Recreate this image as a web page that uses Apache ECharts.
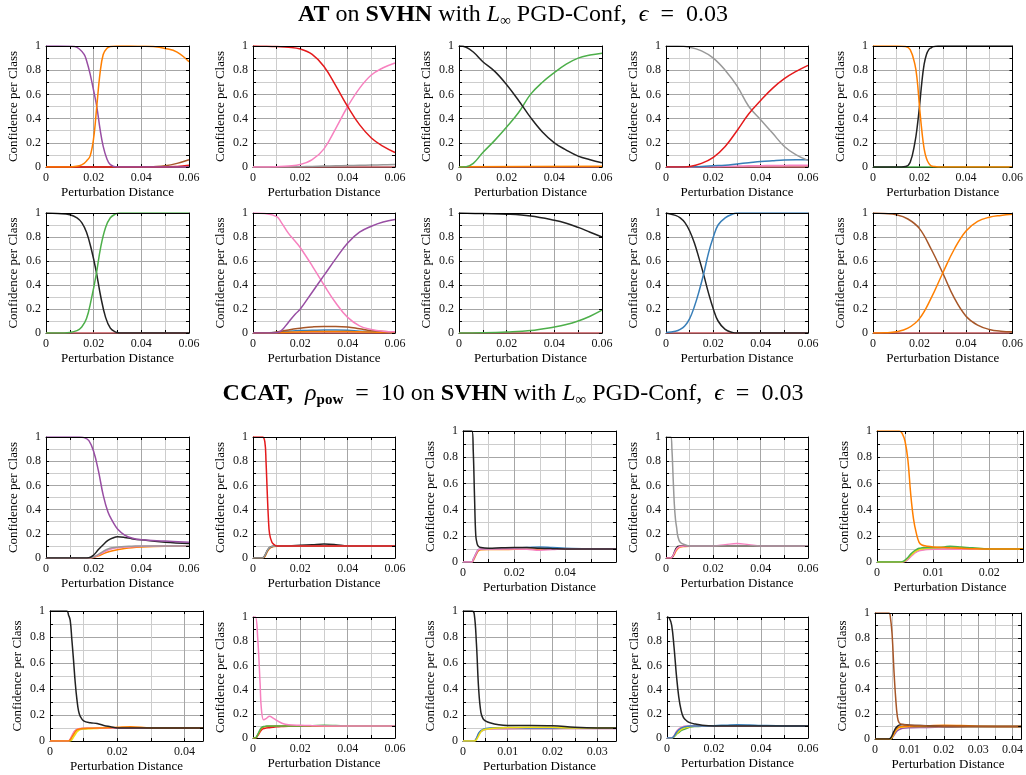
<!DOCTYPE html>
<html><head><meta charset="utf-8">
<script src="https://cdn.jsdelivr.net/npm/echarts@6/dist/echarts.min.js"></script>
<style>html,body{margin:0;padding:0;background:#fff}#c{width:1026px;height:775px}</style>
</head><body><div id="c"></div>
<script>
// ---------- data ----------
const atZeroX = [0, 0.06];
const atZeroY = [0, 0];

// Row 1 (AT)
const r1c1_x = [0,0.005,0.01,0.012,0.014,0.016,0.017,0.0185,0.02,0.0213,0.0227,0.024,0.0255,0.027,0.03,0.035,0.04,0.045,0.05,0.055,0.06];
const r1c1_purple = [1,1,0.998,0.995,0.975,0.93,0.88,0.77,0.63,0.5,0.31,0.17,0.07,0.02,0,0,0,0,0,0,0];
const r1c1_orange = [0,0,0,0.005,0.01,0.03,0.05,0.09,0.24,0.5,0.78,0.93,0.98,0.995,1,1,0.998,0.995,0.98,0.95,0.87];
const r1c1_bx = [0,0.04,0.045,0.05,0.055,0.06];
const r1c1_brown = [0,0,0.003,0.01,0.03,0.06];
const r1c1_rx = [0,0.05,0.055,0.06];
const r1c1_red = [0,0,0.005,0.015];

const x13 = [0,0.005,0.01,0.015,0.02,0.025,0.03,0.035,0.04,0.045,0.05,0.055,0.06];
const r1c2_red = [1,0.998,0.995,0.99,0.975,0.93,0.83,0.67,0.5,0.35,0.24,0.17,0.12];
const r1c2_pink = [0,0,0.003,0.008,0.02,0.06,0.15,0.32,0.5,0.65,0.76,0.82,0.86];
const r1c2_gray = [0,0,0,0,0.002,0.005,0.008,0.01,0.012,0.014,0.016,0.018,0.02];

const r1c3_x = [0,0.003,0.006,0.01,0.015,0.02,0.025,0.03,0.035,0.04,0.045,0.05,0.055,0.06];
const r1c3_black = [1,0.99,0.95,0.87,0.79,0.68,0.55,0.41,0.29,0.2,0.14,0.09,0.06,0.035];
const r1c3_green = [0,0.003,0.03,0.12,0.22,0.33,0.45,0.6,0.7,0.78,0.85,0.9,0.925,0.94];
const r1c3_orange = [0.003,0.006];

const r1c4_gray = [1,1,0.99,0.96,0.9,0.8,0.67,0.5,0.39,0.28,0.17,0.1,0.055];
const r1c4_red = [0,0,0.005,0.03,0.08,0.17,0.3,0.44,0.55,0.65,0.73,0.79,0.84];
const r1c4_blue = [0,0,0.002,0.005,0.01,0.015,0.025,0.035,0.045,0.052,0.058,0.06,0.06];
const r1c4_pink = [0,0,0,0.002,0.004,0.006,0.008,0.01,0.011,0.012,0.013,0.014,0.015];

const r1c5_x = [0,0.005,0.01,0.014,0.016,0.018,0.019,0.02,0.021,0.022,0.023,0.024,0.025,0.026,0.028,0.03,0.04,0.05,0.06];
const r1c5_orange = [1,1,1,0.995,0.97,0.85,0.72,0.5,0.3,0.15,0.07,0.03,0.01,0.005,0,0,0,0,0];
const r1c5_black = [0,0,0,0.005,0.04,0.2,0.33,0.5,0.7,0.85,0.93,0.97,0.985,0.995,1,1,1,1,1];

// Row 2 (AT)
const r2c1_x = [0,0.005,0.01,0.013,0.015,0.017,0.019,0.021,0.023,0.025,0.027,0.029,0.031,0.035,0.04,0.05,0.06];
const r2c1_black = [1,0.995,0.985,0.96,0.92,0.84,0.7,0.52,0.3,0.13,0.04,0.01,0,0,0,0,0];
const r2c1_green = [0,0,0.005,0.02,0.05,0.12,0.28,0.48,0.72,0.88,0.96,0.99,1,1,1,1,1];

const r2c2_x = [0,0.005,0.01,0.012,0.015,0.018,0.02,0.025,0.03,0.035,0.04,0.045,0.05,0.055,0.06];
const r2c2_pink = [1,0.995,0.97,0.92,0.83,0.76,0.71,0.56,0.4,0.25,0.13,0.06,0.03,0.015,0.01];
const r2c2_purple = [0,0,0.003,0.02,0.09,0.16,0.2,0.34,0.48,0.62,0.75,0.84,0.89,0.925,0.945];
const r2c2_brown = [0,0,0.008,0.015,0.025,0.035,0.04,0.05,0.055,0.055,0.05,0.035,0.02,0.012,0.01];
const r2c2_blue = [0,0,0.005,0.01,0.015,0.018,0.02,0.022,0.025,0.025,0.022,0.015,0.01,0.008,0.005];
const r2c2_orange = [0,0,0.003,0.005,0.007,0.008,0.01,0.012,0.012,0.012,0.012,0.01,0.008,0.006,0.005];

const r2c3_x = [0,0.01,0.02,0.03,0.04,0.045,0.05,0.055,0.06];
const r2c3_black = [1,0.995,0.99,0.975,0.94,0.915,0.88,0.84,0.8];
const r2c3_green = [0,0.002,0.008,0.02,0.05,0.07,0.1,0.14,0.19];

const r2c4_x = [0,0.004,0.006,0.008,0.01,0.012,0.014,0.016,0.018,0.02,0.022,0.025,0.028,0.03,0.04,0.05,0.06];
const r2c4_black = [1,0.98,0.96,0.92,0.85,0.75,0.62,0.48,0.33,0.2,0.1,0.03,0.005,0,0,0,0];
const r2c4_blue = [0.005,0.015,0.03,0.06,0.12,0.22,0.35,0.5,0.67,0.8,0.9,0.96,0.99,1,1,1,1];

const r2c5_brown = [1,0.995,0.985,0.95,0.87,0.7,0.5,0.29,0.14,0.065,0.03,0.015,0.01];
const r2c5_orange = [0,0.002,0.01,0.04,0.12,0.29,0.5,0.7,0.85,0.93,0.965,0.98,0.99];

// Row 3 (CCAT)
const r3c1_x = [0,0.014,0.016,0.018,0.02,0.022,0.024,0.026,0.028,0.03,0.033,0.036,0.04,0.05,0.06];
const r3c1_purple = [1,1,0.995,0.97,0.88,0.72,0.52,0.38,0.3,0.24,0.19,0.165,0.15,0.14,0.13];
const r3c1_black = [0,0,0,0.002,0.025,0.07,0.11,0.145,0.165,0.175,0.17,0.16,0.15,0.13,0.12];
const r3c1_gray = [0,0,0,0,0.01,0.03,0.055,0.075,0.085,0.09,0.095,0.097,0.1,0.1,0.1];
const r3c1_pink = [0,0,0,0,0.008,0.025,0.045,0.065,0.078,0.085,0.09,0.094,0.097,0.1,0.1];
const r3c1_orange = [0,0,0,0,0.005,0.018,0.035,0.05,0.06,0.068,0.078,0.085,0.09,0.097,0.1];

const r3c2_x = [0,0.004,0.005,0.0055,0.006,0.0065,0.007,0.008,0.009,0.01,0.015,0.02,0.025,0.03,0.035,0.04,0.05,0.06];
const r3c2_red = [1,1,0.96,0.8,0.55,0.33,0.2,0.13,0.11,0.1,0.1,0.1,0.1,0.1,0.1,0.1,0.1,0.1];
const r3c2_black = [0,0,0.02,0.04,0.06,0.075,0.085,0.095,0.098,0.1,0.1,0.105,0.11,0.115,0.11,0.1,0.1,0.1];
const r3c2_gray = [0,0,0.02,0.04,0.06,0.075,0.085,0.095,0.098,0.1,0.1,0.1,0.1,0.1,0.1,0.1,0.1,0.1];
const r3c2_orange = [0,0,0.01,0.03,0.05,0.065,0.078,0.09,0.095,0.097,0.098,0.098,0.098,0.098,0.098,0.098,0.098,0.098];

const r3c3_x = [0,0.0035,0.004,0.0045,0.005,0.0055,0.006,0.007,0.01,0.015,0.02,0.025,0.03,0.035,0.04,0.05,0.0598];
const r3c3_black = [1,1,0.85,0.5,0.2,0.14,0.12,0.11,0.105,0.108,0.11,0.11,0.105,0.102,0.1,0.1,0.1];
const r3c3_blue = [0,0,0.02,0.04,0.06,0.08,0.095,0.1,0.1,0.102,0.105,0.11,0.115,0.11,0.105,0.1,0.1];
const r3c3_orange = [0,0,0.01,0.03,0.05,0.07,0.085,0.093,0.095,0.095,0.097,0.098,0.098,0.098,0.098,0.098,0.098];
const r3c3_pink = [0,0,0.02,0.04,0.06,0.08,0.095,0.1,0.1,0.1,0.1,0.098,0.09,0.095,0.1,0.1,0.1];

const r3c4_x = [0,0.002,0.0025,0.003,0.0035,0.004,0.0045,0.005,0.006,0.008,0.01,0.02,0.025,0.03,0.035,0.04,0.05,0.06];
const r3c4_gray = [1,1,0.9,0.67,0.45,0.32,0.25,0.18,0.13,0.11,0.1,0.1,0.1,0.1,0.1,0.1,0.1,0.1];
const r3c4_black = [0,0,0.005,0.02,0.045,0.07,0.085,0.095,0.1,0.1,0.1,0.1,0.1,0.1,0.1,0.1,0.1,0.1];
const r3c4_orange = [0,0,0.003,0.015,0.03,0.05,0.065,0.078,0.09,0.095,0.097,0.098,0.098,0.098,0.098,0.098,0.098,0.098];
const r3c4_pink = [0,0,0.005,0.02,0.04,0.06,0.075,0.085,0.095,0.1,0.1,0.1,0.11,0.12,0.11,0.1,0.1,0.1];

const r3c5_x = [0,0.004,0.0045,0.005,0.0055,0.006,0.0065,0.007,0.0075,0.008,0.009,0.01,0.012,0.013,0.015,0.017,0.02,0.026];
const r3c5_orange = [1,1,0.98,0.92,0.78,0.52,0.33,0.22,0.15,0.13,0.12,0.115,0.11,0.108,0.105,0.102,0.1,0.1];
const r3c5_green = [0,0,0.003,0.015,0.035,0.06,0.08,0.095,0.105,0.108,0.11,0.11,0.115,0.12,0.115,0.108,0.1,0.1];
const r3c5_yellow = [0,0,0,0.01,0.03,0.05,0.07,0.085,0.095,0.1,0.105,0.108,0.112,0.115,0.11,0.105,0.1,0.1];
const r3c5_gray = [0,0,0,0.005,0.02,0.045,0.065,0.08,0.09,0.095,0.098,0.1,0.1,0.1,0.1,0.1,0.1,0.1];
const r3c5_pink = [0,0,0,0.005,0.02,0.04,0.06,0.075,0.085,0.09,0.095,0.097,0.098,0.098,0.098,0.098,0.098,0.098];

// Row 4 (CCAT)
const r4c1_x = [0,0.005,0.0055,0.006,0.0065,0.007,0.0075,0.008,0.0085,0.009,0.01,0.012,0.014,0.016,0.018,0.02,0.024,0.03,0.0455];
const r4c1_black = [1,1,0.97,0.93,0.78,0.62,0.45,0.32,0.23,0.19,0.155,0.14,0.135,0.12,0.11,0.1,0.1,0.1,0.1];
const r4c1_gray = [0,0,0,0.01,0.035,0.06,0.078,0.088,0.093,0.095,0.097,0.098,0.098,0.098,0.098,0.098,0.098,0.098,0.098];
const r4c1_pink = [0,0,0,0.015,0.04,0.065,0.08,0.09,0.095,0.097,0.098,0.098,0.098,0.098,0.098,0.098,0.098,0.098,0.098];
const r4c1_yellow = [0,0,0,0,0.01,0.03,0.05,0.07,0.08,0.088,0.092,0.095,0.097,0.1,0.1,0.1,0.1,0.1,0.1];
const r4c1_orange = [0,0,0,0.01,0.03,0.05,0.07,0.085,0.09,0.095,0.097,0.098,0.1,0.1,0.102,0.105,0.11,0.1,0.1];

const r4c2_x = [0,0.001,0.002,0.003,0.0035,0.0045,0.0055,0.007,0.0085,0.01,0.0125,0.015,0.02,0.025,0.03,0.035,0.04,0.05,0.06];
const r4c2_pink = [1,1,0.82,0.45,0.25,0.15,0.16,0.18,0.165,0.145,0.12,0.11,0.105,0.102,0.1,0.1,0.1,0.1,0.1];
const r4c2_green = [0,0,0.03,0.07,0.085,0.095,0.098,0.1,0.1,0.1,0.1,0.1,0.1,0.102,0.105,0.103,0.1,0.1,0.1];
const r4c2_red = [0,0,0.02,0.05,0.065,0.078,0.082,0.085,0.088,0.092,0.095,0.097,0.098,0.098,0.098,0.098,0.098,0.098,0.098];
const r4c2_orange = [0,0,0.025,0.06,0.08,0.09,0.095,0.097,0.098,0.1,0.1,0.1,0.1,0.1,0.1,0.1,0.1,0.1,0.1];

const r4c3_x = [0,0.002,0.0025,0.003,0.0035,0.004,0.0045,0.005,0.006,0.008,0.01,0.015,0.02,0.025,0.03,0.0342];
const r4c3_black = [1,1,0.98,0.75,0.4,0.22,0.17,0.155,0.14,0.125,0.12,0.12,0.118,0.105,0.1,0.1];
const r4c3_yellow = [0,0,0,0.01,0.04,0.07,0.085,0.09,0.095,0.1,0.103,0.106,0.105,0.1,0.1,0.1];
const r4c3_blue = [0,0,0,0.02,0.06,0.08,0.09,0.095,0.1,0.102,0.103,0.1,0.1,0.1,0.1,0.1];
const r4c3_pink = [0,0,0,0.02,0.055,0.075,0.085,0.09,0.093,0.095,0.095,0.097,0.097,0.097,0.097,0.097];
const r4c3_gray = [0,0,0,0.015,0.05,0.072,0.083,0.088,0.092,0.094,0.095,0.095,0.095,0.096,0.097,0.097];

const r4c4_x = [0,0.001,0.002,0.003,0.004,0.005,0.006,0.007,0.0085,0.01,0.012,0.015,0.02,0.025,0.03,0.035,0.04,0.05,0.06];
const r4c4_black = [1,0.99,0.93,0.75,0.52,0.34,0.23,0.17,0.14,0.125,0.115,0.105,0.1,0.1,0.1,0.1,0.1,0.1,0.1];
const r4c4_green = [0,0,0,0.01,0.03,0.045,0.06,0.07,0.08,0.09,0.095,0.098,0.1,0.1,0.1,0.1,0.1,0.1,0.1];
const r4c4_yellow = [0,0,0,0.012,0.035,0.055,0.07,0.08,0.088,0.094,0.097,0.1,0.1,0.1,0.1,0.1,0.1,0.1,0.1];
const r4c4_blue = [0,0,0,0.015,0.045,0.068,0.082,0.09,0.096,0.1,0.1,0.1,0.102,0.106,0.11,0.108,0.104,0.1,0.1];
const r4c4_pink = [0,0,0,0.02,0.055,0.075,0.088,0.095,0.1,0.1,0.1,0.1,0.1,0.1,0.1,0.1,0.1,0.1,0.1];

const r4c5_x = [0,0.004,0.0045,0.005,0.0055,0.006,0.0065,0.007,0.008,0.01,0.015,0.02,0.025,0.03,0.0425];
const r4c5_brown = [1,1,0.96,0.82,0.55,0.33,0.18,0.13,0.115,0.11,0.105,0.102,0.1,0.1,0.1];
const r4c5_purple = [0,0,0,0.01,0.03,0.05,0.065,0.075,0.085,0.09,0.092,0.095,0.097,0.1,0.1];
const r4c5_yellow = [0,0,0,0.015,0.04,0.065,0.08,0.09,0.095,0.1,0.1,0.1,0.1,0.1,0.1];
const r4c5_orange = [0,0,0.003,0.02,0.045,0.07,0.085,0.095,0.1,0.102,0.105,0.11,0.107,0.102,0.1];
const r4c5_black = [0,0,0.005,0.03,0.06,0.085,0.1,0.11,0.115,0.11,0.105,0.1,0.1,0.1,0.1];

// ---------- styles ----------
const F = "'Liberation Serif','DejaVu Serif',serif";
const COL = {red:'#e41a1c', blue:'#377eb8', green:'#4daf4a', purple:'#984ea3', orange:'#ff7f00',
  yellow:'#f0e010', brown:'#a65628', pink:'#f781bf', gray:'#999999', black:'#222222'};
const ZERO = [['brown', atZeroX, atZeroY], ['pink', atZeroX, atZeroY, 0.55]];

const panels = [
  {r:[46,46,143,121], xmax:0.06, step:0.01, lab:0.02, s:[...ZERO,['brown',r1c1_bx,r1c1_brown],['red',r1c1_rx,r1c1_red],['purple',r1c1_x,r1c1_purple],['orange',r1c1_x,r1c1_orange]]},
  {r:[253,46,142,121], xmax:0.06, step:0.01, lab:0.02, s:[...ZERO,['gray',x13,r1c2_gray],['pink',x13,r1c2_pink],['red',x13,r1c2_red]]},
  {r:[459,46,143,121], xmax:0.06, step:0.01, lab:0.02, s:[...ZERO,['orange',atZeroX,r1c3_orange],['green',r1c3_x,r1c3_green],['black',r1c3_x,r1c3_black]]},
  {r:[666,46,142,121], xmax:0.06, step:0.01, lab:0.02, s:[...ZERO,['pink',x13,r1c4_pink],['blue',x13,r1c4_blue],['gray',x13,r1c4_gray],['red',x13,r1c4_red]]},
  {r:[873,46,142,121], xmax:0.06, step:0.01, lab:0.02, s:[['green',atZeroX,atZeroY],['black',r1c5_x,r1c5_black],['orange',r1c5_x,r1c5_orange]]},

  {r:[46,213,143,120], xmax:0.06, step:0.01, lab:0.02, s:[...ZERO,['black',r2c1_x,r2c1_black],['green',r2c1_x,r2c1_green]]},
  {r:[253,213,142,120], xmax:0.06, step:0.01, lab:0.02, s:[...ZERO,['blue',r2c2_x,r2c2_blue],['orange',r2c2_x,r2c2_orange],['brown',r2c2_x,r2c2_brown],['pink',r2c2_x,r2c2_pink],['purple',r2c2_x,r2c2_purple]]},
  {r:[459,213,143,120], xmax:0.06, step:0.01, lab:0.02, s:[...ZERO,['green',r2c3_x,r2c3_green],['black',r2c3_x,r2c3_black]]},
  {r:[666,213,142,120], xmax:0.06, step:0.01, lab:0.02, s:[...ZERO,['black',r2c4_x,r2c4_black],['blue',r2c4_x,r2c4_blue]]},
  {r:[873,213,142,120], xmax:0.06, step:0.01, lab:0.02, s:[...ZERO,['brown',x13,r2c5_brown],['orange',x13,r2c5_orange]]},

  {r:[46,437,143,121], xmax:0.06, step:0.01, lab:0.02, s:[['orange',r3c1_x,r3c1_orange],['pink',r3c1_x,r3c1_pink],['gray',r3c1_x,r3c1_gray],['black',r3c1_x,r3c1_black],['purple',r3c1_x,r3c1_purple]]},
  {r:[253,437,142,121], xmax:0.06, step:0.01, lab:0.02, s:[['orange',r3c2_x,r3c2_orange],['black',r3c2_x,r3c2_black],['gray',r3c2_x,r3c2_gray],['red',r3c2_x,r3c2_red]]},
  {r:[463,431,153,131], xmax:0.0598, step:0.01, lab:0.02, s:[['orange',r3c3_x,r3c3_orange],['blue',r3c3_x,r3c3_blue],['pink',r3c3_x,r3c3_pink],['black',r3c3_x,r3c3_black]]},
  {r:[666,437,142,121], xmax:0.06, step:0.01, lab:0.02, s:[['orange',r3c4_x,r3c4_orange],['black',r3c4_x,r3c4_black],['pink',r3c4_x,r3c4_pink],['gray',r3c4_x,r3c4_gray]]},
  {r:[877,431,152,131], xmax:0.026, step:0.005, lab:0.01, s:[['gray',r3c5_x,r3c5_gray],['pink',r3c5_x,r3c5_pink],['yellow',r3c5_x,r3c5_yellow],['green',r3c5_x,r3c5_green],['orange',r3c5_x,r3c5_orange]]},

  {r:[50,611,153,130], xmax:0.0455, step:0.01, lab:0.02, s:[['yellow',r4c1_x,r4c1_yellow],['gray',r4c1_x,r4c1_gray],['pink',r4c1_x,r4c1_pink],['orange',r4c1_x,r4c1_orange],['black',r4c1_x,r4c1_black]]},
  {r:[253,617,142,121], xmax:0.06, step:0.01, lab:0.02, s:[['red',r4c2_x,r4c2_red],['orange',r4c2_x,r4c2_orange],['green',r4c2_x,r4c2_green],['pink',r4c2_x,r4c2_pink]]},
  {r:[463,611,153,130], xmax:0.0342, step:0.005, lab:0.01, s:[['gray',r4c3_x,r4c3_gray],['pink',r4c3_x,r4c3_pink],['blue',r4c3_x,r4c3_blue],['yellow',r4c3_x,r4c3_yellow],['black',r4c3_x,r4c3_black]]},
  {r:[667,617,141,121], xmax:0.06, step:0.01, lab:0.02, s:[['green',r4c4_x,r4c4_green],['yellow',r4c4_x,r4c4_yellow],['pink',r4c4_x,r4c4_pink],['blue',r4c4_x,r4c4_blue],['black',r4c4_x,r4c4_black]]},
  {r:[875,613,148,126], xmax:0.0425, step:0.005, lab:0.01, s:[['purple',r4c5_x,r4c5_purple],['yellow',r4c5_x,r4c5_yellow],['orange',r4c5_x,r4c5_orange],['black',r4c5_x,r4c5_black],['brown',r4c5_x,r4c5_brown]]}
];

function fmt(lab){
  return function(v){
    const k = v / lab;
    if (Math.abs(k - Math.round(k)) > 1e-6) return '';
    return String(parseFloat(v.toFixed(4)));
  };
}

const nameStyle = {fontFamily:F, fontSize:13, color:'#000'};
const labelStyle = {fontFamily:F, fontSize:12, color:'#111'};
const gridLine = {show:true, lineStyle:{color:['#a6a6a6','#cdcdcd'], width:1}};
const blackLine = {show:true, onZero:false, lineStyle:{color:'#000', width:1}};
const tick = {show:true, inside:true, length:3, lineStyle:{color:'#000', width:1}};

const TS = 24;
const subBase = {fontFamily:F, fontSize:15, lineHeight:14, verticalAlign:'bottom', color:'#000'};
const option = {
  animation:false,
  backgroundColor:'#fff',
  title:[
    {text:'{b|AT} on {b|SVHN} with {i|L}{s|∞} PGD-Conf,  {i|ϵ}  =  0.03', left:'center', top:1},
    {text:'{b|CCAT,}  {i|ρ}{sb|pow}  =  10 on {b|SVHN} with {i|L}{s|∞} PGD-Conf,  {i|ϵ}  =  0.03', left:'center', top:380}
  ].map(t => Object.assign(t, {padding:0, textStyle:{fontFamily:F, fontSize:TS, fontWeight:'normal', color:'#000', lineHeight:28,
      rich:{b:{fontFamily:F, fontSize:TS, fontWeight:'bold', lineHeight:28, color:'#000'},
            i:{fontFamily:F, fontSize:TS, fontStyle:'italic', lineHeight:28, color:'#000'},
            s:Object.assign({}, subBase),
            sb:Object.assign({fontWeight:'bold'}, subBase)}}})),
  grid:[], xAxis:[], yAxis:[], series:[]
};

panels.forEach((p, i) => {
  option.grid.push({left:p.r[0], top:p.r[1], width:p.r[2], height:p.r[3], containLabel:false});
  option.xAxis.push({gridIndex:i, type:'value', position:'bottom', min:0, max:p.xmax, interval:p.step, z:1,
    name:'Perturbation Distance', nameLocation:'middle', nameGap:19, nameTextStyle:nameStyle,
    axisLine:blackLine, axisTick:tick, axisLabel:Object.assign({margin:5, formatter:fmt(p.lab), showMinLabel:true, showMaxLabel:true}, labelStyle),
    splitLine:gridLine});
  option.xAxis.push({gridIndex:i, type:'value', position:'top', min:0, max:p.xmax, interval:p.step, z:3,
    axisLine:blackLine, axisTick:tick, axisLabel:{show:false}, splitLine:{show:false}});
  option.yAxis.push({gridIndex:i, type:'value', position:'left', min:0, max:1, interval:0.1, z:1,
    name:'Confidence per Class', nameLocation:'middle', nameGap:26, nameTextStyle:nameStyle,
    axisLine:blackLine, axisTick:tick, axisLabel:Object.assign({margin:5, formatter:fmt(0.2), showMinLabel:true, showMaxLabel:true}, labelStyle),
    splitLine:gridLine});
  option.yAxis.push({gridIndex:i, type:'value', position:'right', min:0, max:1, interval:0.1, z:3,
    axisLine:blackLine, axisTick:tick, axisLabel:{show:false}, splitLine:{show:false}});
  p.s.forEach(([c, xs, ys, op]) => {
    option.series.push({type:'line', xAxisIndex:2*i, yAxisIndex:2*i, z:2, silent:true,
      data: xs.map((x, j) => [x, ys[j]]), showSymbol:false, smooth:0.4,
      lineStyle:{color:COL[c], width:1.5, opacity: op == null ? 1 : op}, itemStyle:{color:COL[c]}});
  });
});

const chart = echarts.init(document.getElementById('c'), null, {renderer:'canvas'});
chart.setOption(option);
</script>
</body></html>
